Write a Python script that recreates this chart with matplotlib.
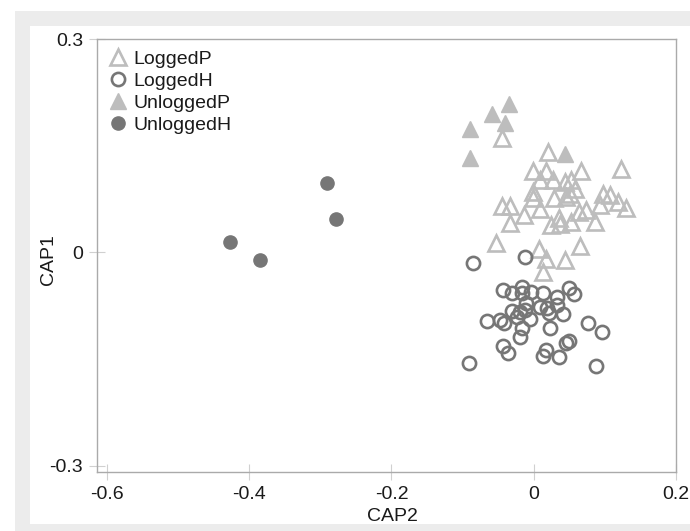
import matplotlib
matplotlib.use("Agg")
import matplotlib.pyplot as plt
from matplotlib.patches import Rectangle

plt.rcParams['font.family'] = ['Liberation Sans', 'DejaVu Sans']

# ---- data (CAP2 = x, CAP1 = y) ----
logged_p_x = [-0.045, 0.020, -0.001, 0.017, 0.067, 0.123, 0.009, 0.027, 0.044, 0.053,
              0.058, -0.001, -0.001, 0.029, 0.045, 0.051, 0.098, 0.107, 0.119, 0.130,
              0.093, -0.045, -0.033, 0.009, -0.013, -0.034, 0.035, 0.037, 0.053, 0.063,
              0.074, 0.086, -0.053, 0.008, 0.017, 0.044, 0.065, 0.013, 0.024]
logged_p_y = [0.161, 0.141, 0.115, 0.114, 0.114, 0.117, 0.101, 0.101, 0.0986, 0.101,
              0.089, 0.0846, 0.0767, 0.0767, 0.0776, 0.0823, 0.0823, 0.080, 0.0705, 0.062,
              0.066, 0.0645, 0.0645, 0.0613, 0.0519, 0.041, 0.0487, 0.040, 0.0425, 0.0565,
              0.059, 0.0425, 0.0136, 0.005, -0.0098, -0.0112, 0.0088, -0.0276, 0.039]

logged_h_x = [-0.086, -0.012, -0.043, -0.031, -0.017, -0.016, -0.004, 0.013, 0.032, 0.049,
              0.056, -0.011, 0.009, 0.018, 0.032, 0.022, 0.041, -0.031, -0.020, -0.012,
              -0.066, -0.047, -0.042, -0.024, -0.005, -0.017, -0.020, 0.023, 0.076, 0.096,
              -0.043, -0.036, 0.017, 0.013, 0.036, 0.049, 0.046, -0.091, 0.088]
logged_h_y = [-0.015, -0.0066, -0.0533, -0.0571, -0.0487, -0.0571, -0.0557, -0.0579, -0.0627, -0.0509,
              -0.0589, -0.0711, -0.0767, -0.079, -0.0743, -0.086, -0.087, -0.0823, -0.0837, -0.0813,
              -0.0964, -0.0954, -0.0992, -0.0916, -0.0944, -0.107, -0.1188, -0.107, -0.100, -0.1118,
              -0.1318, -0.142, -0.1374, -0.1459, -0.1468, -0.1244, -0.128, -0.156, -0.160]

unlogged_p_x = [-0.035, -0.058, -0.041, -0.089, -0.090, 0.044]
unlogged_p_y = [0.209, 0.1945, 0.182, 0.174, 0.133, 0.138]

unlogged_h_x = [-0.290, -0.278, -0.427, -0.385]
unlogged_h_y = [0.0978, 0.0467, 0.0144, -0.0102]

x_ticks = [-0.6, -0.4, -0.2, 0, 0.2]
x_tick_labels = ['-0.6', '-0.4', '-0.2', '0', '0.2']
y_ticks = [-0.3, 0, 0.3]
y_tick_labels = ['-0.3', '0', '0.3']

W, H = 690, 531
fig = plt.figure(figsize=(W / 100, H / 100), dpi=100)
fig.patch.set_facecolor('white')

# grey frame band around white panel
fig.patches.append(Rectangle((15 / W, 0), 1, (H - 11) / H, transform=fig.transFigure,
                             facecolor='#ececec', edgecolor='none', zorder=-10))
fig.patches.append(Rectangle((30 / W, 7 / H), 1, (524 - 26) / H, transform=fig.transFigure,
                             facecolor='white', edgecolor='none', zorder=-9))

ax = fig.add_axes([97 / W, 1 - 472 / H, (676 - 97) / W, (472 - 39) / H])
ax.set_facecolor('none')

tri_col = '#bdbdbd'
circ_col = '#767676'

ax.plot(logged_p_x, logged_p_y, linestyle='none', marker='^', ms=11, mfc='none',
        mec=tri_col, mew=1.9, label='LoggedP')
ax.plot(logged_h_x, logged_h_y, linestyle='none', marker='o', ms=9.5, mfc='none',
        mec=circ_col, mew=1.9, label='LoggedH')
ax.plot(unlogged_p_x, unlogged_p_y, linestyle='none', marker='^', ms=11.5, mfc=tri_col,
        mec=tri_col, mew=1.0, label='UnloggedP')
ax.plot(unlogged_h_x, unlogged_h_y, linestyle='none', marker='o', ms=9.5, mfc=circ_col,
        mec=circ_col, mew=1.0, label='UnloggedH')

ax.set_xlim(-0.614, 0.2)
ax.set_ylim(-0.309, 0.299)
ax.set_xticks(x_ticks)
ax.set_xticklabels(x_tick_labels)
ax.set_yticks(y_ticks)
ax.set_yticklabels(y_tick_labels)

for s in ax.spines.values():
    s.set_color('#aaaaaa')
    s.set_linewidth(1.0)

ax.tick_params(axis='both', direction='inout', length=12, width=0.8, color='#d0d0d0',
               labelsize=14, labelcolor='#1a1a1a')
ax.tick_params(axis='x', pad=4)
ax.tick_params(axis='y', pad=4)

ax.set_xlabel('CAP2', fontsize=14, color='#1a1a1a')
ax.set_ylabel('CAP1', fontsize=14, color='#1a1a1a')
ax.xaxis.set_label_coords((392 - 97) / 579, -0.083)
ax.yaxis.set_label_coords(-0.069, 0.49)

leg = ax.legend(loc='upper left', bbox_to_anchor=(0.02, 0.974), frameon=False,
                fontsize=14, handlelength=0.92, handletextpad=0.38, labelspacing=0.22,
                borderpad=0, borderaxespad=0)
for t in leg.get_texts():
    t.set_color('#1a1a1a')

fig.savefig('out.png', dpi=100, facecolor=fig.get_facecolor())
